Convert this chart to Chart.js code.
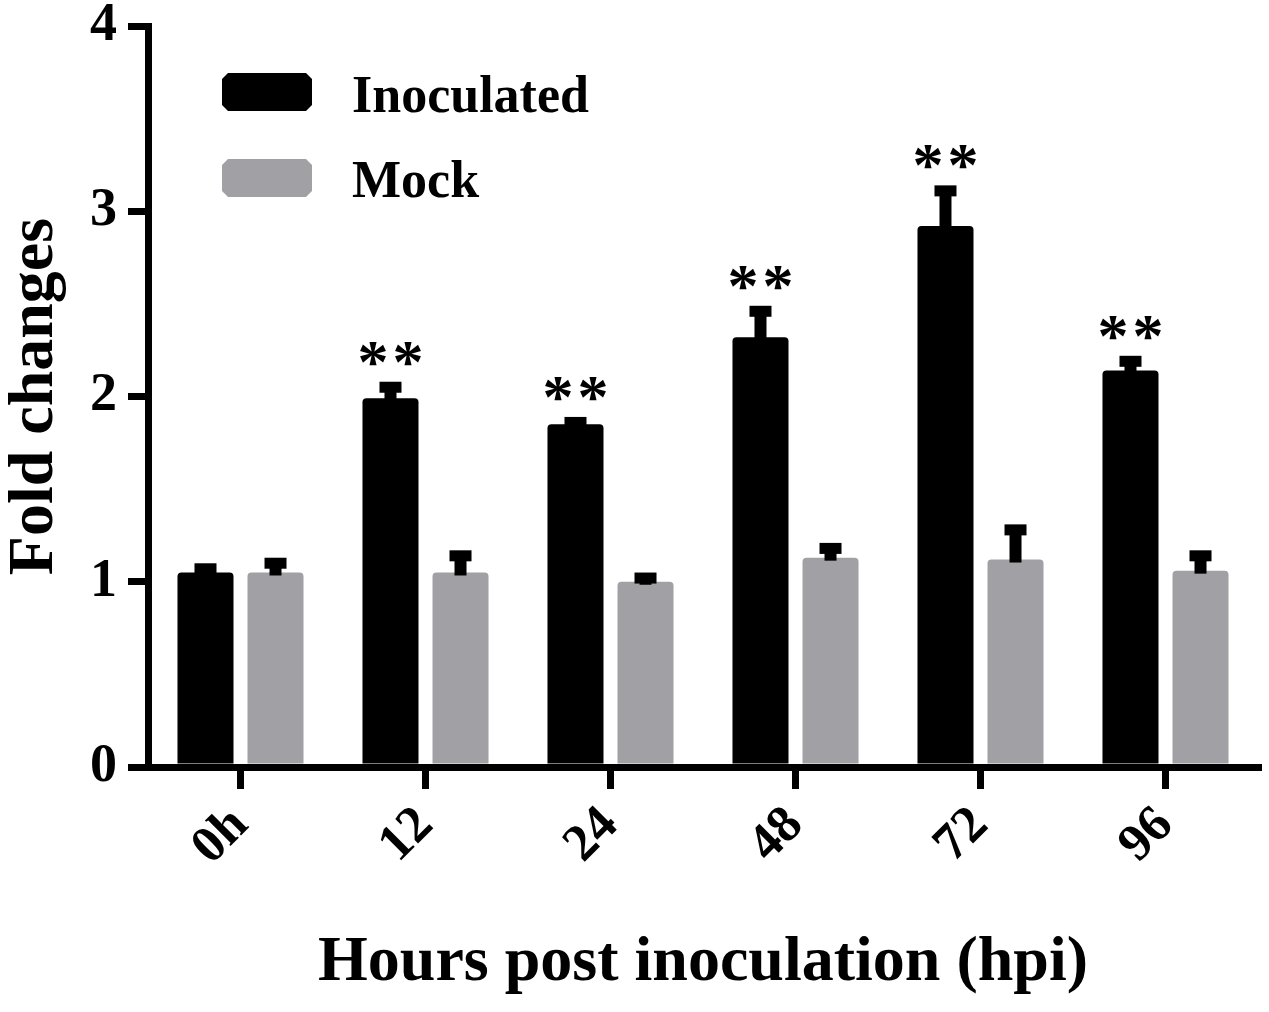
<!DOCTYPE html>
<html>
<head>
<meta charset="utf-8">
<script src="https://cdn.jsdelivr.net/npm/chart.js@4.4.0/dist/chart.umd.min.js"></script>
<style>
  html, body { margin: 0; padding: 0; background: #fff; }
  #wrap { width: 1269px; height: 1012px; }
</style>
</head>
<body>
<div id="wrap"><canvas id="chart"></canvas></div>
<script>
const labels = ['0h', '12', '24', '48', '72', '96'];
const inoculated = [1.05, 1.99, 1.85, 2.32, 2.92, 2.14];
const inoculatedSem = [0.02, 0.06, 0.01, 0.14, 0.19, 0.05];
const mock = [1.05, 1.05, 1.00, 1.13, 1.12, 1.06];
const mockSem = [0.05, 0.09, 0.02, 0.05, 0.16, 0.08];
const stars = ['', '**', '**', '**', '**', '**'];

const serif = '"Liberation Serif", "Times New Roman", serif';
const grey = '#a1a1a5';

// upper error bars + significance marks
const errorBars = {
    id: 'errorBars',
    afterDatasetsDraw(chart) {
        const ctx = chart.ctx;
        const y = chart.scales.y;
        const sems = [inoculatedSem, mockSem];
        ctx.save();
        ctx.fillStyle = '#000';
        chart.data.datasets.forEach((ds, i) => {
            const meta = chart.getDatasetMeta(i);
            meta.data.forEach((bar, j) => {
                const top = y.getPixelForValue(ds.data[j] + sems[i][j]);
                ctx.fillRect(bar.x - 6, top, 12, bar.y - top + 3);
                ctx.fillRect(bar.x - 11, top - 5.5, 22, 11);
                if (i === 0 && stars[j]) {
                    ctx.font = 'bold 62px ' + serif;
                    ctx.textAlign = 'center';
                    ctx.textBaseline = 'alphabetic';
                    const m = ctx.measureText('*');
                    const bottom = top - 5.5 - 16;
                    const base = bottom - m.actualBoundingBoxDescent;
                    const n = stars[j].length;
                    for (let k = 0; k < n; k++) {
                        ctx.fillText('*', bar.x + (k - (n - 1) / 2) * 35, base);
                    }
                }
            });
        });
        ctx.restore();
    }
};

function bevelRect(ctx, x, y, w, h, c) {
    ctx.beginPath();
    ctx.moveTo(x + c, y);
    ctx.lineTo(x + w - c, y);
    ctx.lineTo(x + w, y + c);
    ctx.lineTo(x + w, y + h - c);
    ctx.lineTo(x + w - c, y + h);
    ctx.lineTo(x + c, y + h);
    ctx.lineTo(x, y + h - c);
    ctx.lineTo(x, y + c);
    ctx.closePath();
    ctx.fill();
}

const insideLegend = {
    id: 'insideLegend',
    afterDraw(chart) {
        const ctx = chart.ctx;
        ctx.save();
        ctx.font = 'bold 52px ' + serif;
        ctx.textAlign = 'left';
        ctx.textBaseline = 'alphabetic';
        const rows = [{ top: 73, base: 112 }, { top: 159, base: 197 }];
        chart.data.datasets.forEach((ds, i) => {
            ctx.fillStyle = ds.backgroundColor;
            bevelRect(ctx, 222, rows[i].top, 90, 38, 6);
            ctx.fillStyle = '#000';
            ctx.fillText(ds.label, 352, rows[i].base);
        });
        ctx.restore();
    }
};

new Chart(document.getElementById('chart'), {
    type: 'bar',
    data: {
        labels: labels,
        datasets: [
            { label: 'Inoculated', data: inoculated, backgroundColor: '#000', borderRadius: 4 },
            { label: 'Mock', data: mock, backgroundColor: grey, borderRadius: 4 }
        ]
    },
    options: {
        responsive: true,
        maintainAspectRatio: false,
        animation: false,
        categoryPercentage: 0.757,
        barPercentage: 0.8,
        layout: { padding: { top: 26, right: 11, left: 0, bottom: 0 } },
        plugins: {
            legend: { display: false },
            tooltip: { enabled: false }
        },
        scales: {
            x: {
                grid: { display: true, drawOnChartArea: false, drawTicks: true, offset: false, tickLength: 22, lineWidth: 7, color: '#000' },
                border: { display: true, width: 7, color: '#000' },
                ticks: {
                    color: '#000',
                    font: { family: serif, size: 52, weight: 'bold' },
                    maxRotation: 45, minRotation: 45, padding: 6
                },
                title: {
                    display: true,
                    text: 'Hours post inoculation (hpi)',
                    color: '#000',
                    font: { family: serif, size: 64, weight: 'bold' },
                    padding: { top: 0, bottom: 10 }
                },
                afterFit(scale) { scale.height = 245; }
            },
            y: {
                min: 0, max: 4,
                grid: { display: true, drawOnChartArea: false, drawTicks: true, tickLength: 20, lineWidth: 7, color: '#000' },
                border: { display: true, width: 7, color: '#000' },
                ticks: {
                    stepSize: 1,
                    color: '#000',
                    padding: 11,
                    font: { family: serif, size: 54, weight: 'bold', lineHeight: 0.5 }
                },
                title: {
                    display: true,
                    text: 'Fold changes',
                    color: '#000',
                    font: { family: serif, size: 64, weight: 'bold', lineHeight: 1.1 },
                    padding: 0
                },
                afterFit(scale) { scale.width = 148; }
            }
        }
    },
    plugins: [errorBars, insideLegend]
});
</script>
</body>
</html>
